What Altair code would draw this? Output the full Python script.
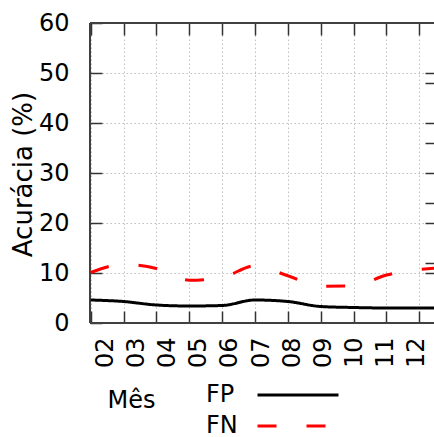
import altair as alt
import pandas as pd

# ---- data ----
months = [2, 3, 4, 5, 6, 7, 8, 9, 10, 11, 12, 13]
fp_values = [4.6, 4.3, 3.6, 3.4, 3.5, 4.6, 4.3, 3.3, 3.1, 3.0, 3.0, 3.0]
fn_values = [10.1, 11.7, 10.9, 8.55, 9.1, 11.45, 9.45, 7.35, 7.4, 9.6, 10.7, 11.1]
series = ["FP", "FN"]
tick_months = [2, 3, 4, 5, 6, 7, 8, 9, 10, 11, 12]
y_ticks = [0, 10, 20, 30, 40, 50, 60]
y2_ticks = [10, 12, 20, 24, 30, 36, 40, 48, 50]
border_y = [0, 60]

# ---- layout / style ----
FONT = "DejaVu Sans"
W, H = 344, 300
X_DOMAIN = [1.98, 12.45]
X_LABEL_DOMAIN = [1.519, 12.545]
Y_DOMAIN = [0, 60]
TICK_COLOR = "#333333"
BORDER_COLOR = "#404040"
GRID_COLOR = "#c0c0c0"

rows = []
for m, a, b in zip(months, fp_values, fn_values):
    rows.append({"month": m, "value": a, "serie": "FP"})
    rows.append({"month": m, "value": b, "serie": "FN"})
df = pd.DataFrame(rows)
df_months = pd.DataFrame({"month": tick_months})
df_by = pd.DataFrame({"v": border_y})
df_bx = pd.DataFrame({"v": [X_DOMAIN[0]]})

xs = alt.Scale(domain=X_DOMAIN, nice=False, zero=False)
xs_lab = alt.Scale(domain=X_LABEL_DOMAIN, nice=False, zero=False)
ys = alt.Scale(domain=Y_DOMAIN, nice=False, zero=False)

# top & bottom border + right-side inward ticks
border_h = alt.Chart(df_by).mark_rule(color=BORDER_COLOR, strokeWidth=2).encode(
    y=alt.Y("v:Q", scale=ys, axis=alt.Axis(
        orient="right", values=y2_ticks, labels=False, domain=False, grid=False,
        offset=-9, tickSize=9, tickColor=TICK_COLOR, tickWidth=1.5, title=None)),
)

# left border + top inward ticks
border_v = alt.Chart(df_bx).mark_rule(color=BORDER_COLOR, strokeWidth=2).encode(
    x=alt.X("v:Q", scale=xs, axis=alt.Axis(
        orient="top", values=tick_months, labels=False, domain=False, grid=False,
        offset=-12, tickSize=12, tickColor=TICK_COLOR, tickWidth=1.5, title=None)),
)

# month labels + x title
labels_layer = alt.Chart(df_months).mark_point(opacity=0).encode(
    x=alt.X("month:Q", scale=xs_lab, axis=alt.Axis(
        orient="bottom", values=tick_months, format="02d", labelAngle=270,
        labelFontSize=24, labelFont=FONT, labelColor="black", labelPadding=14,
        labelFlush=False, labelOverlap=False, labelBound=False,
        ticks=False, tickSize=0, domain=False, grid=False,
        title="Mês", titleFontSize=24, titleFont=FONT, titleFontWeight="normal",
        titleColor="black", titleX=41, titleY=77, titleAlign="center",
        titleBaseline="middle")),
)

legend = alt.Legend(
    title=None, orient="none", legendX=196, legendY=360, direction="vertical",
    symbolType="M-4,0H4", symbolSize=410, symbolStrokeWidth=3,
    labelFontSize=24, labelFont=FONT, labelColor="black",
    labelOffset={"expr": "-104"},
    labelLimit=0, rowPadding=7, padding=0,
)

lines = alt.Chart(df).mark_line(clip=True, strokeWidth=3, interpolate="monotone").encode(
    x=alt.X("month:Q", scale=xs, axis=alt.Axis(
        orient="bottom", values=tick_months, labels=False, domain=False,
        offset=-12, tickSize=12, tickColor=TICK_COLOR, tickWidth=1.5,
        grid=True, gridColor=GRID_COLOR, gridDash=[1.5, 2.5], gridWidth=1,
        title=None)),
    y=alt.Y("value:Q", scale=ys, axis=alt.Axis(
        orient="left", values=y_ticks, labelFontSize=24, labelFont=FONT,
        labelColor="black", labelPadding=21, domain=False,
        offset=-12, tickSize=12, tickColor=TICK_COLOR, tickWidth=1.5,
        grid=True, gridColor=GRID_COLOR, gridDash=[1.5, 2.5], gridWidth=1,
        title="Acurácia (%)", titleFontSize=26, titleFont=FONT,
        titleFontWeight="normal", titleColor="black", titleX=-79, titleY=151,
        titleAngle=270, titleAlign="center", titleBaseline="middle")),
    color=alt.Color("serie:N", scale=alt.Scale(domain=series, range=["#000000", "#ff0000"]),
                    legend=legend),
    strokeDash=alt.StrokeDash("serie:N", scale=alt.Scale(domain=series, range=[[1, 0], [19, 30]]),
                              legend=legend),
)

chart = alt.layer(border_h, border_v, labels_layer, lines).resolve_scale(
    x="independent"
).resolve_axis(
    x="independent", y="independent"
).properties(
    width=W, height=H,
    autosize=alt.AutoSizeParams(type="none"),
    padding={"left": 90, "top": 23, "right": 0, "bottom": 114},
).configure(font=FONT).configure_view(stroke=None)

chart.save("out.html", embed_options={"renderer": "svg", "actions": False})
